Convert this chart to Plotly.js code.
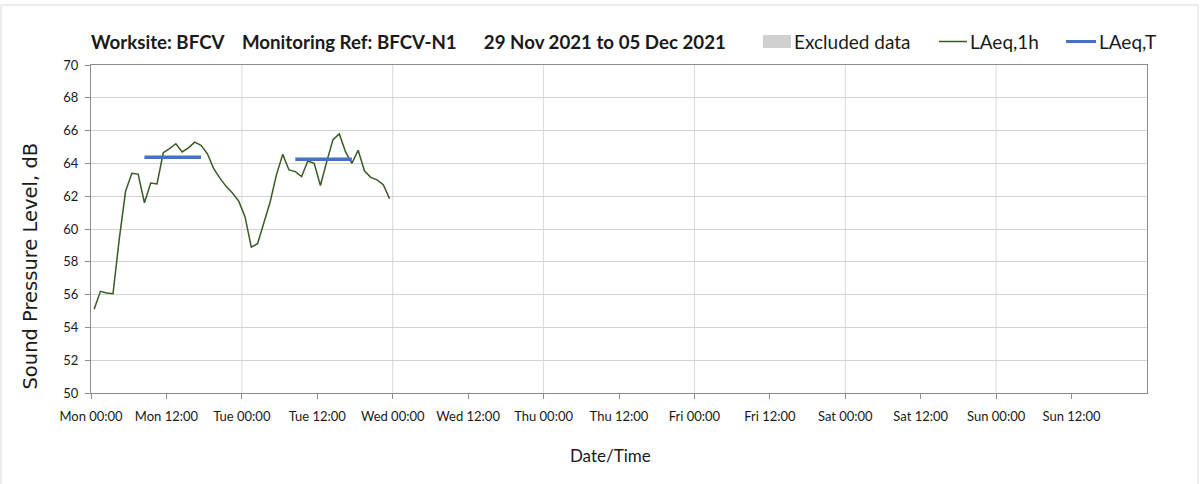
<!DOCTYPE html>
<html>
<head>
<meta charset="utf-8">
<script src="https://cdn.plot.ly/plotly-3.0.1.min.js"></script>
<style>
html,body{margin:0;padding:0;background:#fff;}
#chart{width:1203px;height:484px;}
</style>
</head>
<body>
<div id="chart"></div>
<script>
// Hourly LAeq,1h readings (mid-hour timestamps)
const hourTimes = [
  '2021-11-29 00:30','2021-11-29 01:30','2021-11-29 02:30','2021-11-29 03:30','2021-11-29 04:30','2021-11-29 05:30',
  '2021-11-29 06:30','2021-11-29 07:30','2021-11-29 08:30','2021-11-29 09:30','2021-11-29 10:30','2021-11-29 11:30',
  '2021-11-29 12:30','2021-11-29 13:30','2021-11-29 14:30','2021-11-29 15:30','2021-11-29 16:30','2021-11-29 17:30',
  '2021-11-29 18:30','2021-11-29 19:30','2021-11-29 20:30','2021-11-29 21:30','2021-11-29 22:30','2021-11-29 23:30',
  '2021-11-30 00:30','2021-11-30 01:30','2021-11-30 02:30','2021-11-30 03:30','2021-11-30 04:30','2021-11-30 05:30',
  '2021-11-30 06:30','2021-11-30 07:30','2021-11-30 08:30','2021-11-30 09:30','2021-11-30 10:30','2021-11-30 11:30',
  '2021-11-30 12:30','2021-11-30 13:30','2021-11-30 14:30','2021-11-30 15:30','2021-11-30 16:30','2021-11-30 17:30',
  '2021-11-30 18:30','2021-11-30 19:30','2021-11-30 20:30','2021-11-30 21:30','2021-11-30 22:30','2021-11-30 23:30'
];
const laeq1h = [
  55.1, 56.2, 56.1, 56.05, 59.4, 62.3, 63.4, 63.35, 61.6, 62.8, 62.75, 64.65,
  64.9, 65.2, 64.7, 64.95, 65.3, 65.1, 64.6, 63.7, 63.1, 62.6, 62.2, 61.7,
  60.75, 58.9, 59.1, 60.35, 61.65, 63.3, 64.55, 63.6, 63.5, 63.2, 64.15, 64.0,
  62.65, 64.1, 65.45, 65.8, 64.7, 64.0, 64.8, 63.55, 63.15, 63.0, 62.7, 61.85
];
// LAeq,T daytime periods
const periodStart = ['2021-11-29 08:30', '2021-11-30 08:30'];
const periodEnd   = ['2021-11-29 17:30', '2021-11-30 17:30'];
const periodValue = [64.37, 64.25];

// Axis range, tick positions (12-hourly) and day boundaries
const rangeStart = '2021-11-29 00:00';
const rangeEnd   = '2021-12-06 00:00';
const tickTimes = [
  '2021-11-29 00:00','2021-11-29 12:00','2021-11-30 00:00','2021-11-30 12:00',
  '2021-12-01 00:00','2021-12-01 12:00','2021-12-02 00:00','2021-12-02 12:00',
  '2021-12-03 00:00','2021-12-03 12:00','2021-12-04 00:00','2021-12-04 12:00',
  '2021-12-05 00:00','2021-12-05 12:00'
];
const dayBoundaries = ['2021-11-30','2021-12-01','2021-12-02','2021-12-03','2021-12-04','2021-12-05'];

const titleText = 'Worksite: BFCV&nbsp;&nbsp;&nbsp; Monitoring Ref: BFCV-N1&nbsp;&nbsp;&nbsp;&nbsp;&nbsp; 29 Nov 2021 to 05 Dec 2021';
const legendNames = ['Excluded data', 'LAeq,1h', 'LAeq,T'];
const legendColors = ['#d0d0d0', '#3b5a26', '#4472c4'];

const tx = [], ty = [];
periodStart.forEach((s, i) => { tx.push(s, periodEnd[i], null); ty.push(periodValue[i], periodValue[i], null); });

const traces = [
  {type:'scatter', mode:'lines', x:hourTimes, y:laeq1h, name:legendNames[1], line:{color:legendColors[1], width:1.5}},
  {type:'scatter', mode:'lines', x:tx, y:ty, name:legendNames[2], line:{color:legendColors[2], width:3.5}, connectgaps:false}
];

// plot-area geometry used to place legend items in paper units
const L = 91, R = 1147, T = 65, B = 393;
const px = v => (v - L) / (R - L);
const py = v => (B - v) / (B - T);

const shapes = dayBoundaries.map(d => ({
  type:'line', xref:'x', yref:'paper', x0:d, x1:d, y0:0, y1:1, layer:'below',
  line:{color:'#d9d9d9', width:1}
}));
// outer chart border
shapes.push({type:'rect', xref:'paper', yref:'paper', x0:px(1), x1:px(1198), y0:py(520), y1:py(5),
  line:{color:'#d9d9d9', width:1}, fillcolor:'rgba(0,0,0,0)', layer:'below'});
// legend symbols
const legY = 41.5;
shapes.push({type:'rect', xref:'paper', yref:'paper', x0:px(763), x1:px(791), y0:py(48), y1:py(35),
  line:{width:0}, fillcolor:legendColors[0]});
shapes.push({type:'line', xref:'paper', yref:'paper', x0:px(939), x1:px(967), y0:py(legY), y1:py(legY),
  line:{color:legendColors[1], width:1.5}});
shapes.push({type:'line', xref:'paper', yref:'paper', x0:px(1066), x1:px(1096), y0:py(legY), y1:py(legY),
  line:{color:legendColors[2], width:3}});

const legFont = {family:'Lato, sans-serif', size:19, color:'#1a1a1a'};
const annotations = [
  {text:legendNames[0], x:px(792), y:py(legY), xref:'paper', yref:'paper', xanchor:'left', yanchor:'middle', showarrow:false, font:legFont},
  {text:legendNames[1], x:px(968), y:py(legY), xref:'paper', yref:'paper', xanchor:'left', yanchor:'middle', showarrow:false, font:legFont},
  {text:legendNames[2], x:px(1097), y:py(legY), xref:'paper', yref:'paper', xanchor:'left', yanchor:'middle', showarrow:false, font:legFont}
];

const layout = {
  width:1203, height:484,
  margin:{l:L, r:1203-R, t:T, b:484-B},
  paper_bgcolor:'#fff', plot_bgcolor:'#fff',
  font:{family:'Lato, "Open Sans", sans-serif', color:'#1a1a1a'},
  showlegend:false,
  title:{text:titleText, x:91/1203, xanchor:'left', xref:'container', y:1-42/484, yanchor:'middle', yref:'container',
    font:{family:'Lato, sans-serif', size:18.7, weight:'bold', color:'#1a1a1a'}},
  xaxis:{type:'date', range:[rangeStart, rangeEnd], tickmode:'array', tickvals:tickTimes, tickformat:'%a %H:%M',
    showgrid:false, zeroline:false, showline:true, mirror:true, linecolor:'#8c8c8c', linewidth:1,
    ticks:'outside', ticklen:5, tickcolor:'#8c8c8c', ticklabelstandoff:6,
    tickfont:{family:'Lato, sans-serif', size:13, color:'#1a1a1a'},
    title:{text:'Date/Time&nbsp;&nbsp;&nbsp;&nbsp;', standoff:27, font:{family:'Lato, sans-serif', size:17, color:'#1a1a1a'}}, fixedrange:true},
  yaxis:{range:[50,70], dtick:2, tick0:50, showgrid:true, gridcolor:'#d4d4d4', gridwidth:1, zeroline:false,
    showline:true, mirror:true, linecolor:'#8c8c8c', linewidth:1, ticks:'outside', ticklen:5, tickcolor:'#8c8c8c',
    ticklabelstandoff:4,
    tickfont:{family:'Lato, sans-serif', size:13, color:'#1a1a1a'},
    title:{text:'Sound Pressure Level, dB' + '&nbsp;'.repeat(12), standoff:20,
      font:{family:'"DejaVu Sans", sans-serif', size:19.5, color:'#1a1a1a'}}, fixedrange:true},
  shapes:shapes,
  annotations:annotations
};

Plotly.newPlot('chart', traces, layout, {displayModeBar:false, staticPlot:true});
</script>
</body>
</html>
